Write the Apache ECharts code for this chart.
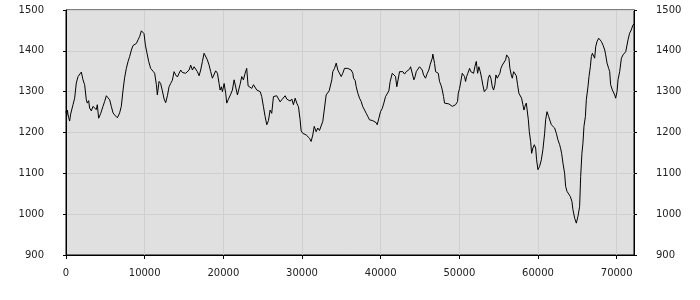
<!DOCTYPE html>
<html>
<head>
<meta charset="utf-8">
<script src="https://cdn.jsdelivr.net/npm/echarts@6/dist/echarts.min.js"></script>
<style>html,body{margin:0;padding:0;background:#fff}#c{width:700px;height:300px}</style>
</head>
<body>
<div id="c"></div>
<script>
var xTicks = [0, 10000, 20000, 30000, 40000, 50000, 60000, 70000];
var yTicks = [900, 1000, 1100, 1200, 1300, 1400, 1500];
var xs = [
0,100,170,250,330,460,590,890,1100,1310,1530,1730,1950,2160,2370,2580,2710,2880,3000,3220,3430,3640,3850,3980,4150,4400,4700,4910,5130,5340,5550,5760,5980,6180,6400,6530,6820,7030,7250,7450,7670,7890,8090,8310,8520,8730,8940,9160,9360,9580,9790,9920,10090,10340,10510,10760,11070,11270,11490,11610,
11830,12030,12250,12470,12670,12890,13100,13300,13520,13740,13940,14160,14370,14580,14790,15010,15210,15430,15650,15850,16070,16280,16490,16700,16920,17120,17340,17550,17760,17970,18190,18390,18610,18830,19030,19250,19460,19590,19750,19880,20100,20300,20430,20610,20730,20940,21150,21370,21570,21790,21920,22130,22340,22550,22770,22970,23150,23400,23610,23830,
24040,24250,24460,24680,24880,25100,25310,25520,25730,25950,26150,26370,26590,26790,27000,27220,27420,27640,27860,28060,28280,28490,28700,28910,29130,29330,29550,29760,29890,30100,30270,30530,30730,30950,31160,31370,31550,31800,32000,32220,32440,32640,32860,33070,33240,33450,33660,33790,33910,34130,34350,34550,34760,34980,35180,35400,35620,35820,36040,36250,36460,
36550,36760,36890,37100,37310,37520,37730,37950,38160,38370,38580,38800,39000,39220,39430,39560,39770,39980,40200,40400,40620,40830,41040,41210,41470,41670,41890,42050,42270,42400,42610,42820,43030,43250,43450,43670,43800,44010,44220,44380,44520,44720,44940,45070,45280,45450,45700,45920,46120,46300,46560,46630,46850,46980,47140,47320,47480,47700,47830,47990,48120,48340,
48670,48880,49100,49300,49520,49650,49770,49860,50030,50190,50370,50500,50660,50790,50920,51080,51300,51460,51640,51810,51970,52150,52320,52480,52660,52830,52990,53170,53340,53500,53680,53840,54010,54190,54350,54520,54650,54820,54950,55150,55280,55460,55660,55880,56010,56170,56300,56430,56600,56730,56900,57060,57240,57400,57570,57750,57910,58080,58210,58340,58510,58640,58770,58890,59060,59190,59350,59530,59700,59820,59990,
60200,60420,60620,60840,60970,61140,61350,61560,61690,61900,62110,62330,62530,62750,62880,63000,63170,63380,63510,63680,63890,64110,64310,64440,64660,64870,65080,65290,65420,65580,65710,65840,66020,66140,66350,66480,66650,66780,66910,67070,67200,67330,67500,67710,67840,68050,68260,68480,68600,68770,68980,69110,69230,69450,69620,69750,69870,70040,70170,70380,70600,70800,71020,71150,71310,71440,71640,71850,72060,72200
];
var values = [
1252,1242,1255,1245,1237,1228,1245,1268,1284,1321,1337,1340,1348,1329,1317,1280,1272,1278,1260,1253,1264,1268,1256,1268,1235,1246,1264,1276,1290,1285,1280,1264,1248,1243,1242,1236,1248,1264,1304,1334,1357,1374,1386,1402,1413,1410,1418,1427,1435,1449,1445,1442,1414,1390,1374,1357,1350,1345,1317,1292,
1325,1320,1302,1282,1273,1290,1312,1320,1328,1349,1341,1336,1345,1353,1347,1349,1345,1347,1353,1365,1353,1361,1363,1349,1339,1353,1374,1394,1396,1378,1365,1349,1333,1335,1351,1345,1320,1304,1312,1300,1320,1296,1272,1280,1282,1294,1304,1329,1327,1292,1290,1318,1337,1329,1345,1357,1314,1318,1308,1317,
1318,1304,1302,1300,1288,1263,1239,1219,1229,1255,1247,1288,1292,1290,1292,1275,1280,1284,1290,1282,1284,1277,1282,1268,1284,1272,1263,1231,1204,1198,1200,1194,1196,1186,1178,1194,1215,1202,1211,1205,1202,1227,1260,1292,1296,1302,1304,1329,1349,1357,1370,1353,1352,1337,1345,1357,1361,1357,1359,1353,1345,
1333,1327,1312,1296,1284,1276,1263,1255,1247,1239,1231,1235,1229,1231,1224,1219,1235,1251,1259,1272,1288,1292,1302,1325,1345,1343,1337,1312,1314,1349,1349,1349,1343,1349,1353,1355,1361,1357,1329,1337,1349,1353,1361,1365,1353,1341,1333,1345,1353,1367,1382,1392,1369,1349,1345,1345,1325,1314,1304,1288,1272,1268,
1270,1268,1264,1261,1268,1264,1276,1296,1308,1312,1345,1347,1337,1325,1337,1345,1357,1349,1353,1345,1361,1374,1345,1361,1349,1333,1316,1300,1296,1308,1333,1341,1333,1312,1304,1317,1341,1333,1337,1345,1357,1365,1365,1378,1390,1390,1382,1357,1341,1333,1349,1352,1339,1317,1296,1292,1284,1268,1255,1264,1272,1276,1231,1202,1178,1149,1162,1170,1162,1133,1109,
1117,1133,1158,1198,1231,1251,1239,1235,1219,1215,1211,1198,1182,1170,1160,1149,1125,1100,1068,1056,1052,1043,1031,1011,990,978,995,1019,1092,1149,1174,1215,1239,1280,1312,1337,1361,1386,1394,1398,1382,1410,1423,1431,1435,1423,1414,1402,1390,1370,1357,1349,1317,1304,1300,1292,1284,1300,1329,1349,1382,1390,1394,1398,1402,1427,1443,1451,1463,1466
];

var data = xs.map(function (x, i) { return [x, values[i]]; });
var chart = echarts.init(document.getElementById('c'), null, { renderer: 'canvas' });
var labelStyle = { color: '#222', fontFamily: 'DejaVu Sans', fontSize: 10 };
var yAxisBase = function (pos) {
  return {
    type: 'value', position: pos, min: yTicks[0], max: yTicks[yTicks.length - 1], interval: 100,
    axisLine: { show: true, lineStyle: { color: '#000', width: 1 } },
    axisTick: { show: true, length: 3, lineStyle: { color: '#000' } },
    axisLabel: Object.assign({ margin: 22,
      formatter: function (v) { return yTicks.indexOf(v) >= 0 ? String(v) : ''; } }, labelStyle),
    splitLine: { show: pos === 'left', lineStyle: { color: '#cfcfcf', width: 1 } }
  };
};
chart.setOption({
  animation: false,
  backgroundColor: '#ffffff',
  grid: { left: 66, right: 66, top: 10, bottom: 45, show: true, backgroundColor: '#e0e0e0', borderColor: '#000', borderWidth: 1 },
  xAxis: {
    type: 'value', min: 0, max: 72200, interval: 10000,
    axisLine: { show: true, lineStyle: { color: '#000', width: 1 } },
    axisTick: { show: true, length: 4, lineStyle: { color: '#000' } },
    axisLabel: Object.assign({ margin: 13, showMaxLabel: false,
      formatter: function (v) { return xTicks.indexOf(v) >= 0 ? String(v) : ''; } }, labelStyle),
    splitLine: { show: true, lineStyle: { color: '#cfcfcf', width: 1 } }
  },
  yAxis: [yAxisBase('left'), yAxisBase('right')],
  series: [{
    type: 'line', data: data, showSymbol: false, symbol: 'none',
    lineStyle: { color: '#000', width: 1 }, z: 5
  }]
});
</script>
</body>
</html>
